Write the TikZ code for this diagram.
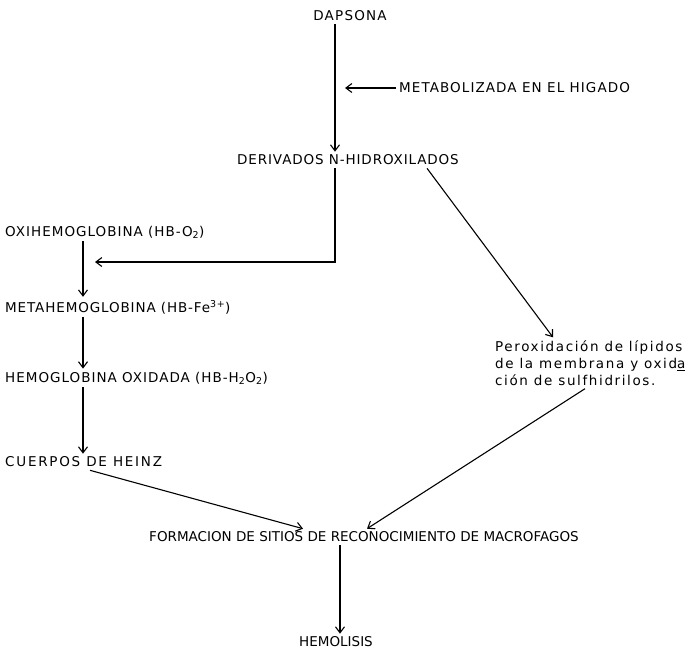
\documentclass[tikz,border=0pt]{standalone}
\usepackage{fontspec}
\setmainfont{DejaVu Sans}
\usetikzlibrary{arrows.meta}

\begin{document}
\begin{tikzpicture}[x=1pt,y=-1pt,
  every node/.style={font=\fontsize{13.5}{17}\selectfont, inner sep=3pt},
  spaced/.style={font=\fontsize{13.5}{17}\selectfont\addfontfeature{LetterSpace=#1}},
  link/.style={line width=1.1pt, -{Straight Barb[length=6pt,width=9pt]}}]
\useasboundingbox (0,0) rectangle (692,650);
\node[spaced=9] (dapsona) at (350,16) {DAPSONA};
\node[spaced=8, anchor=west] (metab) at (396,88) {METABOLIZADA EN EL HIGADO};
\node[spaced=6.5] (deriv) at (348,160) {DERIVADOS N-HIDROXILADOS};
\node[spaced=7.4, anchor=west] (oxi) at (2,232) {OXIHEMOGLOBINA (HB-O\textsubscript{2})};
\node[spaced=6.5, anchor=west] (meta) at (2,307) {METAHEMOGLOBINA (HB-Fe\textsuperscript{3+})};
\node[spaced=7.4, anchor=west] (hox) at (2,378) {HEMOGLOBINA OXIDADA (HB-H\textsubscript{2}O\textsubscript{2})};
\node[spaced=13, anchor=west] (heinz) at (2,462) {CUERPOS DE HEINZ};
\node[spaced=12, anchor=west, align=left] (perox) at (492,363) {Peroxidación de lípidos\\de la membrana y oxid\underline{a}\\ción de sulfhidrilos.};
\node (form) at (364,537) {FORMACION DE SITIOS DE RECONOCIMIENTO DE MACROFAGOS};
\node (hemol) at (336,642) {HEMOLISIS};
\coordinate (mj) at (345,88);
\coordinate (oj) at (95,262);
\coordinate (colA) at (83,0);
\draw[link] ([xshift=-15]dapsona.south) -- ([xshift=-13]deriv.north);
\draw[link] (metab.west) -- (mj);
\draw[link] ([xshift=-13]deriv.south) |- (oj);
\draw[link] (oxi.south -| colA) -- (meta.north -| colA);
\draw[link] (meta.south -| colA) -- (hox.north -| colA);
\draw[link] (hox.south -| colA) -- (heinz.north -| colA);
\draw[link] ([xshift=-35]deriv.south east) -- ([xshift=61]perox.north west);
\draw[link] ([xshift=88]heinz.south west) -- ([xshift=-61]form.north);
\draw[link] ([xshift=93]perox.south west) -- ([xshift=3]form.north);
\draw[link] ([xshift=-24]form.south) -- ([xshift=4]hemol.north);
\end{tikzpicture}
\end{document}
